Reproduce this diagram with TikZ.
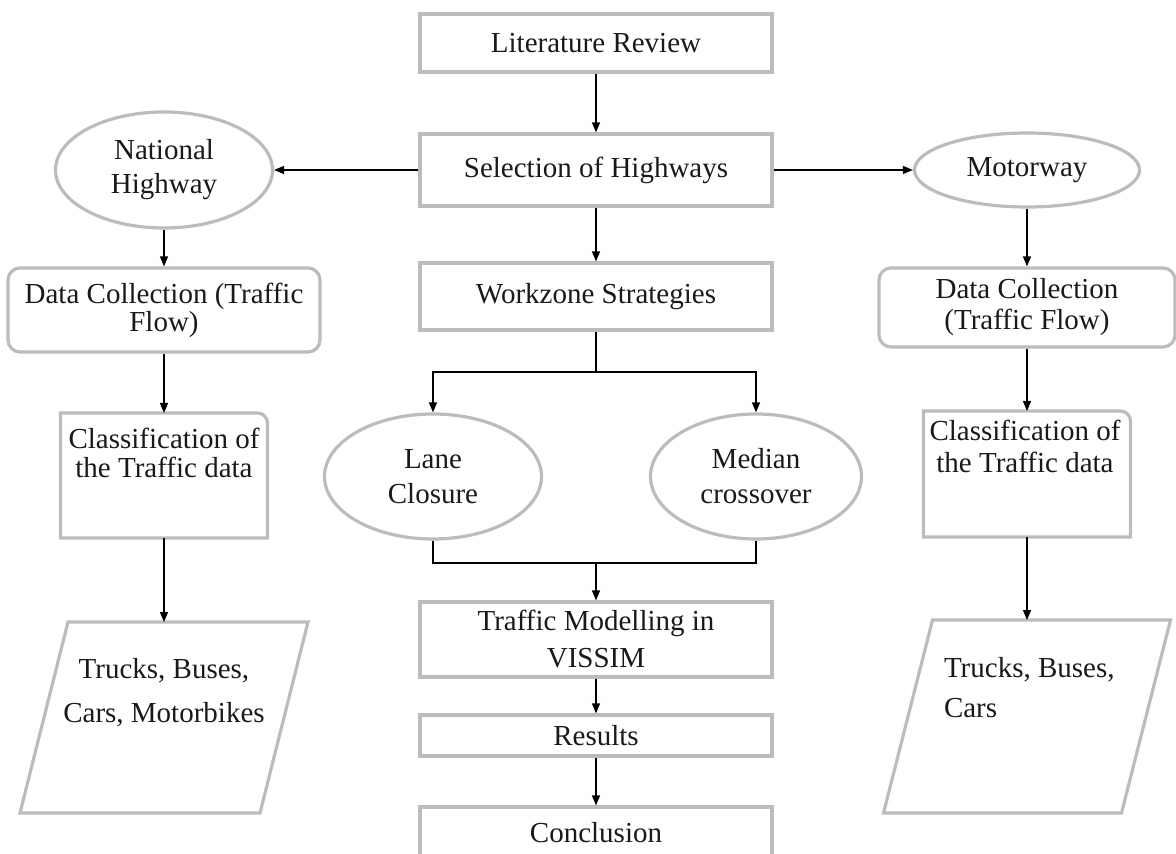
\documentclass[tikz,border=0pt]{standalone}
\usepackage{fontspec}
\setmainfont{Liberation Serif}
\usetikzlibrary{arrows.meta,shapes.geometric}
\definecolor{edgegray}{RGB}{188,188,188}

\begin{document}
\begin{tikzpicture}[
  x=0.5pt, y=-0.5pt,
  every node/.style={font=\fontsize{14.5}{17}\selectfont, text=black!90},
  box/.style={draw=edgegray, line width=1.6pt, minimum width=176pt, align=center, inner sep=1pt},
  roundbox/.style={draw=edgegray, line width=1.6pt, rounded corners=6pt, align=center, inner sep=1pt},
  oval/.style={draw=edgegray, line width=1.6pt, ellipse, align=center, inner sep=0pt},
  holder/.style={inner sep=0pt, outer sep=0pt},
  outline/.style={draw=edgegray, line width=1.6pt},
  line/.style={line width=0.65pt},
  arrow/.style={line, -{Triangle[length=5pt,width=4pt]}}
]
\useasboundingbox (0,0) rectangle (1176,854);

\node[box, minimum height=29pt] (lit) at (596,43) {Literature Review};
\node[box, minimum height=36pt] (sel) at (596,170) {Selection of Highways};
\node[box, minimum height=33.5pt] (wz) at (596,296.5) {Workzone Strategies};
\node[oval, minimum width=108.5pt, minimum height=62.5pt, font=\fontsize{14.5}{17.5}\selectfont] (lane) at (433,476.5) {Lane\\Closure};
\node[oval, minimum width=105.5pt, minimum height=62.5pt, font=\fontsize{14.5}{17.5}\selectfont] (med) at (756,476.5) {Median\\crossover};
\node[box, minimum height=37.5pt, font=\fontsize{14.5}{18.5}\selectfont] (tm) at (596,639.5) {Traffic Modelling in\\VISSIM};
\node[box, minimum height=20.5pt] (res) at (596,735.5) {Results};
\node[box, minimum height=26pt] (con) at (596,833) {Conclusion};

\node[oval, minimum width=108.5pt, minimum height=58pt] (nh) at (164,170) {National\\Highway};
\node[roundbox, minimum width=156pt, minimum height=42pt, font=\fontsize{14.5}{14}\selectfont] (dcl) at (164,310) {Data Collection (Traffic\\Flow)};
\node[holder, minimum width=103.5pt, minimum height=62.5pt] (cll) at (164,475.5) {};
\draw[outline] (cll.south west) -- (cll.north west) -- ([xshift=-5pt]cll.north east) arc[start angle=90, end angle=0, radius=5pt] -- (cll.south east) -- cycle;
\node[holder, anchor=north, align=center, font=\fontsize{14.5}{14.5}\selectfont] (clltext) at (164,428) {Classification of\\the Traffic data};
\node[holder, minimum width=144pt, minimum height=95.5pt] (pl) at (164,717.5) {};
\draw[outline] ([xshift=24pt]pl.north west) -- (pl.north east) -- ([xshift=-24pt]pl.south east) -- (pl.south west) -- cycle;
\node[holder, anchor=north, align=center, font=\fontsize{14.5}{22}\selectfont] (pltext) at (164,658) {Trucks, Buses,\\Cars, Motorbikes};

\node[oval, minimum width=112.5pt, minimum height=37pt] (mw) at (1027,170) {Motorway};
\node[roundbox, minimum width=148pt, minimum height=39.5pt, font=\fontsize{14.5}{15.5}\selectfont] (dcr) at (1027,307.5) {Data Collection\\(Traffic Flow)};
\node[holder, minimum width=103.5pt, minimum height=63pt] (clr) at (1027,474) {};
\draw[outline] (clr.south west) -- (clr.north west) -- ([xshift=-5pt]clr.north east) arc[start angle=90, end angle=0, radius=5pt] -- (clr.south east) -- cycle;
\node[holder, anchor=north, align=center, font=\fontsize{14.5}{16}\selectfont] (clrtext) at (1025,420) {Classification of\\the Traffic data};
\node[holder, minimum width=143.5pt, minimum height=96.5pt] (pr) at (1027,716.5) {};
\draw[outline] ([xshift=24.5pt]pr.north west) -- (pr.north east) -- ([xshift=-24.5pt]pr.south east) -- (pr.south west) -- cycle;
\node[holder, anchor=north west, align=left, font=\fontsize{14.5}{20}\selectfont] (prtext) at (944,657) {Trucks, Buses,\\ Cars};

\coordinate (split) at (596,372);
\coordinate (merge) at (596,563);

\draw[arrow] (lit) -- (sel);
\draw[arrow] (sel.west) -- (nh.east);
\draw[arrow] (sel.east) -- (mw.west);
\draw[arrow] (sel) -- (wz);
\draw[line] (wz) -- (split);
\draw[arrow] (split) -| (lane.north);
\draw[arrow] (split) -| (med.north);
\draw[line] (lane.south) |- (merge) -| (med.south);
\draw[arrow] (merge) -- (tm);
\draw[arrow] (tm) -- (res);
\draw[arrow] (res) -- (con);
\draw[arrow] (nh) -- (dcl);
\draw[arrow] (dcl) -- (cll);
\draw[arrow] (cll) -- (pl);
\draw[arrow] (mw) -- (dcr);
\draw[arrow] (dcr) -- (clr);
\draw[arrow] (clr) -- (pr);
\end{tikzpicture}
\end{document}
